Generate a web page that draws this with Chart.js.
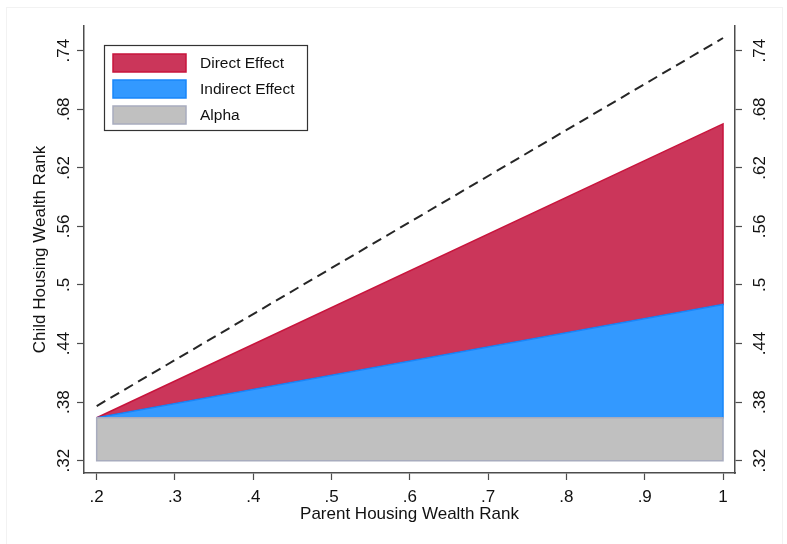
<!DOCTYPE html>
<html>
<head>
<meta charset="utf-8">
<script src="https://cdn.jsdelivr.net/npm/chart.js@4.4.1/dist/chart.umd.min.js"></script>
<style>
  html, body { margin: 0; padding: 0; background: #fff; }
  #wrap { width: 787px; height: 544px; position: relative; }
</style>
</head>
<body>
<div id="wrap"><canvas id="myChart"></canvas></div>
<script>
// parent rank at the two ends of the fitted lines
const parentRank = [0.2, 1];
const floorValue = 0.32;
const alphaTop = [0.364, 0.364];
const indirectTop = [0.364, 0.48];
const directTop = [0.364, 0.665];
const dashedLine = [0.376, 0.753];

const xTicks = [0.2, 0.3, 0.4, 0.5, 0.6, 0.7, 0.8, 0.9, 1];
const yTicks = [0.32, 0.38, 0.44, 0.5, 0.56, 0.62, 0.68, 0.74];

const legendLabels = ["Direct Effect", "Indirect Effect", "Alpha"];

const FONT = "'Liberation Sans', Arial, Helvetica, sans-serif";
const AXIS = "#4d4d4d";

// closed polygon between a lower and upper edge
function band(lower, upper) {
  const pts = parentRank.map((x, i) => ({ x: x, y: upper[i] }));
  for (let i = parentRank.length - 1; i >= 0; i--) {
    pts.push({ x: parentRank[i], y: lower[i] });
  }
  pts.push(pts[0]);
  return pts;
}

const fmt = (v) => (v === 1 ? "1" : v.toFixed(2).replace(/0$/, "").replace(/^0/, ""));

const legendBox = {
  id: "legendBox",
  afterDraw(chart) {
    const { ctx } = chart;
    const sets = legendLabels.map((l) => chart.data.datasets.find((d) => d.label === l));
    ctx.save();
    ctx.fillStyle = "#fff";
    ctx.fillRect(104.5, 45.5, 203, 85);
    ctx.strokeStyle = "#333";
    ctx.lineWidth = 1.2;
    ctx.strokeRect(104.5, 45.5, 203, 85);
    ctx.font = "15.5px " + FONT;
    ctx.textBaseline = "middle";
    sets.forEach((d, i) => {
      const y = 54 + i * 26;
      ctx.fillStyle = d.backgroundColor;
      ctx.fillRect(113, y, 73, 18);
      ctx.strokeStyle = d.borderColor;
      ctx.lineWidth = 1.5;
      ctx.strokeRect(113, y, 73, 18);
      ctx.fillStyle = "#111";
      ctx.fillText(d.label, 200, y + 9.5);
    });
    ctx.restore();
  },
};

// vertical tick labels, centred on each tick and reading upwards
const sideLabels = {
  id: "sideLabels",
  afterDraw(chart) {
    const { ctx } = chart;
    ctx.save();
    ctx.fillStyle = "#111";
    ctx.font = "17px " + FONT;
    ctx.textAlign = "center";
    ctx.textBaseline = "middle";
    [["y", 63.5], ["y2", 759]].forEach(([id, cx]) => {
      const s = chart.scales[id];
      s.ticks.forEach((t) => {
        ctx.save();
        ctx.translate(cx, s.getPixelForValue(t.value));
        ctx.rotate(-Math.PI / 2);
        ctx.fillText(fmt(t.value), 0, 1);
        ctx.restore();
      });
    });
    ctx.restore();
  },
};

const frame = {
  id: "frame",
  beforeDraw(chart) {
    const { ctx } = chart;
    ctx.save();
    ctx.fillStyle = "#fff";
    ctx.fillRect(0, 0, chart.width, chart.height);
    ctx.strokeStyle = "#f2f2f2";
    ctx.lineWidth = 1;
    ctx.strokeRect(6.5, 7.5, 776, 540);
    ctx.restore();
  },
};

const yAxis = (pos, width) => ({
  type: "linear",
  position: pos,
  min: 0.3074,
  max: 0.7653,
  afterBuildTicks: (s) => { s.ticks = yTicks.map((v) => ({ value: v })); },
  afterFit: (s) => { s.width = width; },
  border: { display: true, color: AXIS, width: 1.5 },
  grid: { drawOnChartArea: false, drawTicks: true, tickLength: 7, color: AXIS, tickWidth: 1.2 },
  ticks: { color: "transparent", font: { family: FONT, size: 17 } },
});

new Chart(document.getElementById("myChart"), {
  type: "line",
  data: {
    datasets: [
      {
        label: "Equal rank",
        data: parentRank.map((x, i) => ({ x: x, y: dashedLine[i] })),
        borderColor: "#262626",
        borderWidth: 2,
        borderDash: [10, 6],
        pointRadius: 0,
        fill: false,
        yAxisID: "y",
      },
      {
        label: "Alpha",
        data: band(parentRank.map(() => floorValue), alphaTop),
        backgroundColor: "rgb(192,192,192)",
        borderColor: "rgb(168,172,190)",
        borderWidth: 1.5,
        pointRadius: 0,
        fill: "shape",
        yAxisID: "y",
      },
      {
        label: "Indirect Effect",
        data: band(alphaTop, indirectTop),
        backgroundColor: "rgb(51,153,255)",
        borderColor: "rgb(24,134,250)",
        borderWidth: 1.5,
        pointRadius: 0,
        fill: "shape",
        yAxisID: "y",
      },
      {
        label: "Direct Effect",
        data: band(indirectTop, directTop),
        backgroundColor: "rgb(203,54,90)",
        borderColor: "rgb(200,20,60)",
        borderWidth: 1.5,
        pointRadius: 0,
        fill: "shape",
        yAxisID: "y",
      },
    ],
  },
  options: {
    responsive: true,
    maintainAspectRatio: false,
    animation: false,
    layout: { padding: { left: 30, right: 12, top: 26, bottom: 19 } },
    plugins: { legend: { display: false }, tooltip: { enabled: false } },
    scales: {
      x: {
        type: "linear",
        position: "bottom",
        min: 0.1838,
        max: 1.0153,
        afterBuildTicks: (s) => { s.ticks = xTicks.map((v) => ({ value: v })); },
        afterFit: (s) => { s.height = 52; },
        border: { display: true, color: AXIS, width: 1.5 },
        grid: { drawOnChartArea: false, drawTicks: true, tickLength: 7, color: AXIS, tickWidth: 1.2 },
        ticks: {
          maxRotation: 0,
          padding: 7,
          color: "#111",
          font: { family: FONT, size: 17 },
          callback: (v) => fmt(v),
        },
        title: {
          display: true,
          text: "Parent Housing Wealth Rank",
          color: "#111",
          font: { family: FONT, size: 17 },
          padding: { top: 0, bottom: 0 },
        },
      },
      y: Object.assign(yAxis("left", 54), {
        title: {
          display: true,
          text: "Child Housing Wealth Rank",
          color: "#111",
          font: { family: FONT, size: 17 },
          padding: { top: 0, bottom: 0 },
        },
      }),
      y2: yAxis("right", 40),
    },
  },
  plugins: [frame, sideLabels, legendBox],
});
</script>
</body>
</html>
